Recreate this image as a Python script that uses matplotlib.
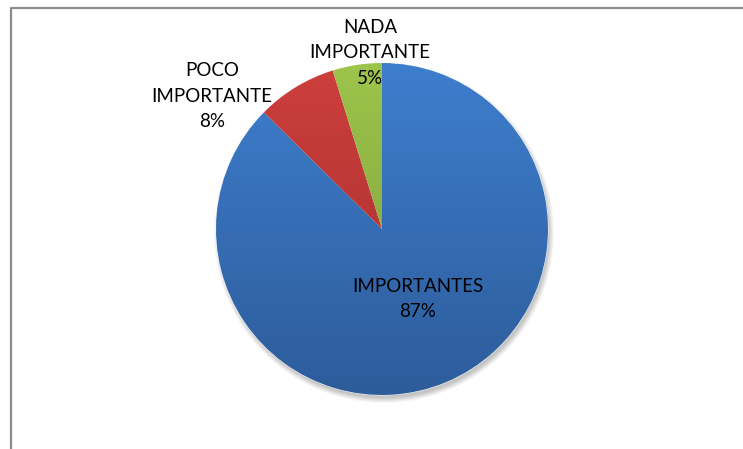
import numpy as np
import matplotlib
matplotlib.use("Agg")
import matplotlib.pyplot as plt
from matplotlib.patches import Circle
from matplotlib.colors import LinearSegmentedColormap

categories = ["IMPORTANTES", "POCO\nIMPORTANTE", "NADA\nIMPORTANTE"]
values = [87.4, 7.8, 4.8]
top_colors = ["#3e7ece", "#cd3f3d", "#9dc44b"]
bottom_colors = ["#2d5c9a", "#a22e2c", "#7a9b3a"]

W, H = 743, 449
fig = plt.figure(figsize=(W / 100, H / 100), dpi=100)
ax = fig.add_axes([0, 0, 1, 1])

cx, cy, R = 382, H - 229, 166

# soft shadow
for i in range(10):
    ax.add_patch(Circle((cx + 2, cy - 4), R + 4 - i * 0.6, color="black",
                        alpha=0.025, lw=0, zorder=1))

wedges, _ = ax.pie(values, center=(cx, cy), radius=R, startangle=90,
                   counterclock=False, frame=True,
                   wedgeprops=dict(linewidth=0.6, edgecolor="white"))
ax.set_xlim(0, W)
ax.set_ylim(0, H)
ax.set_aspect("equal")
ax.axis("off")

# chart frame
ax.plot([10.5, 10.5, W + 5], [-5, H - 7.5, H - 7.5], color="#8c8c8c", lw=1.6,
        solid_capstyle="butt")

grad = np.linspace(0, 1, 256).reshape(-1, 1)
for w, tc, bc in zip(wedges, top_colors, bottom_colors):
    w.set_zorder(2)
    cmap = LinearSegmentedColormap.from_list("g", [tc, bc])
    im = ax.imshow(grad, cmap=cmap, extent=[cx - R, cx + R, cy - R, cy + R],
                   origin="upper", aspect="auto", zorder=3,
                   interpolation="bilinear")
    im.set_clip_path(w)
    w.set_facecolor("none")
ax.set_xlim(0, W)
ax.set_ylim(0, H)

pcts = [f"{round(v)}%" for v in values]
label_pos = [(418, H - 299), (212, H - 96), (370, H - 53)]
fs = 13.5
for (x, y), cat, p in zip(label_pos, categories, pcts):
    ax.text(x, y, f"{cat}\n{p}", ha="center", va="center", fontsize=fs,
            family="Lato", color="black", linespacing=1.62, zorder=5)

fig.savefig("out.png", dpi=100)
